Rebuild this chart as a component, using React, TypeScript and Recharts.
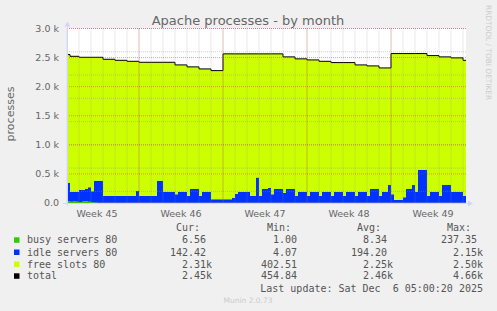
import { ComposedChart, Area, Line, XAxis, YAxis, CartesianGrid } from "recharts";

const BUSY = "#33CC00";
const IDLE = "#0033FF";
const FREE = "#CCFF00";
const TOTAL = "#000000";
const AXIS = "#CFD6F8";
const FONT = "#666666";

// quarter-day samples, day 0 = start of the month window
const total = [
  2552, 2522, 2522, 2522, 2505, 2505, 2505, 2505, 2505, 2505, 2505, 2505,
  2471, 2471, 2471, 2471, 2453, 2453, 2453, 2453, 2436, 2436, 2436, 2436,
  2419, 2419, 2419, 2419, 2419, 2419, 2419, 2419, 2419, 2419, 2419, 2419,
  2374, 2374, 2374, 2374, 2340, 2340, 2340, 2340, 2305, 2305, 2305, 2305,
  2276, 2276, 2276, 2276, 2564, 2564, 2564, 2564, 2564, 2564, 2564, 2564,
  2564, 2564, 2564, 2564, 2564, 2564, 2564, 2564, 2564, 2564, 2564, 2564,
  2512, 2512, 2512, 2512, 2478, 2478, 2478, 2478, 2460, 2460, 2460, 2460,
  2436, 2436, 2436, 2436, 2414, 2414, 2414, 2414, 2414, 2414, 2414, 2414,
  2374, 2374, 2374, 2374, 2357, 2357, 2357, 2357, 2322, 2322, 2322, 2322,
  2569, 2569, 2569, 2569, 2569, 2569, 2569, 2569, 2569, 2569, 2569, 2569,
  2534, 2534, 2534, 2534, 2512, 2512, 2512, 2512, 2495, 2495, 2495, 2495,
  2453, 2453,
];

const busy = [
  30, 22, 25, 20, 18, 25, 30, 22, 12, 8, 6, 6,
  6, 6, 6, 6, 6, 6, 6, 6, 6, 6, 6, 6,
  6, 6, 6, 6, 6, 6, 6, 6, 6, 6, 6, 6,
  6, 6, 6, 6, 6, 6, 6, 6, 6, 6, 6, 6,
  6, 6, 6, 6, 6, 6, 6, 6, 6, 6, 6, 6,
  6, 6, 6, 6, 6, 6, 6, 6, 6, 6, 6, 6,
  6, 6, 6, 6, 6, 6, 6, 6, 6, 6, 6, 6,
  6, 6, 6, 6, 6, 6, 6, 6, 6, 6, 6, 6,
  6, 6, 6, 6, 6, 6, 6, 6, 6, 6, 6, 6,
  6, 6, 6, 6, 6, 6, 6, 6, 6, 6, 6, 6,
  6, 6, 6, 6, 6, 6, 6, 6, 6, 6, 6, 6,
  6, 6,
];

const idle = [
  320, 173, 170, 175, 206, 199, 211, 248, 188, 376, 378, 378,
  114, 114, 114, 114, 114, 114, 114, 114, 114, 114, 114, 201,
  114, 114, 114, 114, 114, 114, 378, 378, 189, 189, 189, 189,
  144, 189, 189, 189, 114, 235, 235, 235, 114, 189, 189, 189,
  57, 57, 57, 57, 57, 57, 57, 84, 154, 189, 189, 189,
  189, 114, 114, 431, 114, 235, 235, 254, 144, 235, 235, 235,
  166, 235, 235, 235, 114, 189, 189, 189, 114, 189, 189, 189,
  114, 189, 189, 189, 114, 189, 189, 189, 114, 189, 189, 189,
  114, 189, 189, 189, 114, 235, 235, 235, 114, 189, 189, 304,
  144, 46, 46, 46, 94, 235, 235, 304, 189, 563, 563, 563,
  114, 189, 189, 189, 114, 304, 304, 304, 189, 189, 189, 189,
  114, 114,
];

const weekTicks = [2.5, 9.5, 16.5, 23.5, 30.5];
const weekLabels = ["Week 45", "Week 46", "Week 47", "Week 48", "Week 49"];
const weekLines = [6, 13, 20, 27];
const yTicks = [0, 500, 1000, 1500, 2000, 2500, 3000];

const seriesNames = ["busy servers 80", "idle servers 80", "free slots 80", "total"];
const seriesColors = [BUSY, IDLE, FREE, TOTAL];
const curValues = ["6.56", "142.42", "2.31k", "2.45k"];
const minValues = ["1.00", "4.07", "402.51", "454.84"];
const avgValues = ["8.34", "194.20", "2.25k", "2.46k"];
const maxValues = ["237.35", "2.15k", "2.50k", "4.66k"];

const rows = total.map((tot, i) => ({
  t: i / 4,
  busy: busy[i],
  idle: idle[i],
  free: tot - busy[i] - idle[i],
  total: tot,
}));

const dayLines = Array.from({ length: 34 }, (_, i) => i);
const minorY = Array.from({ length: 31 }, (_, i) => i * 100);

const fmtY = (v: number) => (v === 0 ? "0.0" : `${(v / 1000).toFixed(1)} k`);

const MONO = "'DejaVu Sans Mono', monospace";
const SANS = "'DejaVu Sans', sans-serif";

function Num({ x, y, value }: { x: number; y: number; value: string }) {
  const unit = value.endsWith("k") ? "k" : "";
  const num = unit ? value.slice(0, -1) : value;
  return (
    <>
      <text x={x} y={y} textAnchor="end">{num}</text>
      {unit && <text x={x} y={y}>{unit}</text>}
    </>
  );
}

function Overlay() {
  const baselines = [243.3, 255.5, 267.5, 279.3];
  const cols = [
    { head: "Cur:", hx: 176, right: 206, vals: curValues },
    { head: "Min:", hx: 267, right: 297, vals: minValues },
    { head: "Avg:", hx: 357, right: 387, vals: avgValues },
    { head: "Max:", hx: 447, right: 477, vals: maxValues },
  ];
  return (
    <svg width={497} height={311} style={{ position: "absolute", left: 0, top: 0, pointerEvents: "none" }}>
      <text x={248} y={25} textAnchor="middle" fontFamily={SANS} fontSize={13} fill={FONT}>
        Apache processes - by month
      </text>
      <text
        x={13.5}
        y={114}
        transform="rotate(-90 13.5 114)"
        textAnchor="middle"
        fontFamily={SANS}
        fontSize={11}
        fill={FONT}
      >
        processes
      </text>
      <text
        x={485.5}
        y={5}
        transform="rotate(90 485.5 5)"
        fontFamily={SANS}
        fontSize={7.4}
        fill="#cccccc"
      >
        RRDTOOL / TOBI OETIKER
      </text>

      {/* axes with arrows */}
      <line x1={63} y1={203.5} x2={468} y2={203.5} stroke={AXIS} />
      <polygon points="468,200.5 473,203.5 468,206.5" fill={AXIS} />
      <line x1={67.5} y1={206} x2={67.5} y2={26} stroke={AXIS} />
      <polygon points="64.5,26.5 67.5,21.5 70.5,26.5" fill={AXIS} />

      <g fontFamily={MONO} fontSize={10} fill="#555555">
        {cols.map((c) => (
          <text key={c.head} x={c.hx} y={230.7}>{c.head}</text>
        ))}
        {seriesNames.map((name, i) => (
          <g key={name}>
            <rect x={14} y={baselines[i] - 6} width={5.5} height={5.5} fill={seriesColors[i]} />
            <text x={27} y={baselines[i]}>{name}</text>
            {cols.map((c) => (
              <Num key={c.head} x={c.right} y={baselines[i]} value={c.vals[i]} />
            ))}
          </g>
        ))}
        <text x={483} y={291.7} textAnchor="end" style={{ whiteSpace: "pre" }}>
          {"Last update: Sat Dec  6 05:00:20 2025"}
        </text>
      </g>
      <text x={248} y={302.5} textAnchor="middle" fontFamily={SANS} fontSize={7.5} fill="#cccccc">
        Munin 2.0.73
      </text>
    </svg>
  );
}

export default function App() {
  return (
    <div style={{ position: "absolute", left: 0, top: 0, width: 497, height: 311, background: "#F0F0F0" }}>
      <ComposedChart
        width={497}
        height={311}
        data={rows}
        margin={{ top: 28.5, right: 31, bottom: 88, left: 7 }}
      >
        <CartesianGrid horizontal={false} vertical={false} fill="#FFFFFF" />
        <XAxis
          dataKey="t"
          type="number"
          domain={[0, 33.25]}
          ticks={weekTicks}
          tickFormatter={(v: number) => weekLabels[weekTicks.indexOf(v)] ?? ""}
          axisLine={false}
          tickLine={false}
          tickSize={0}
          tickMargin={7}
          height={20}
          tick={{ fontSize: 9.5, fill: FONT, fontFamily: SANS }}
          allowDataOverflow
        />
        <YAxis
          type="number"
          domain={[0, 3000]}
          ticks={yTicks}
          tickFormatter={fmtY}
          axisLine={false}
          tickLine={false}
          tickSize={0}
          tickMargin={8}
          width={60}
          tick={{ fontSize: 9.5, fill: FONT, fontFamily: SANS }}
          allowDataOverflow
        />
        <Area dataKey="busy" stackId="a" type="stepAfter" fill={BUSY} fillOpacity={1} stroke="none" isAnimationActive={false} />
        <Area dataKey="idle" stackId="a" type="stepAfter" fill={IDLE} fillOpacity={1} stroke="none" isAnimationActive={false} />
        <Area dataKey="free" stackId="a" type="stepAfter" fill={FREE} fillOpacity={1} stroke="none" isAnimationActive={false} />
        <Line dataKey="total" type="stepAfter" stroke={TOTAL} strokeWidth={1} dot={false} isAnimationActive={false} />
        <CartesianGrid
          horizontalValues={minorY}
          verticalValues={dayLines}
          stroke="#8c8c8c"
          strokeOpacity={0.4}
          strokeDasharray="1 1"
          zIndex={1000}
        />
        <CartesianGrid
          horizontalValues={yTicks}
          verticalValues={weekLines}
          stroke="#d03030"
          strokeOpacity={0.45}
          strokeDasharray="1 1"
          zIndex={1001}
        />
      </ComposedChart>
      <Overlay />
    </div>
  );
}
